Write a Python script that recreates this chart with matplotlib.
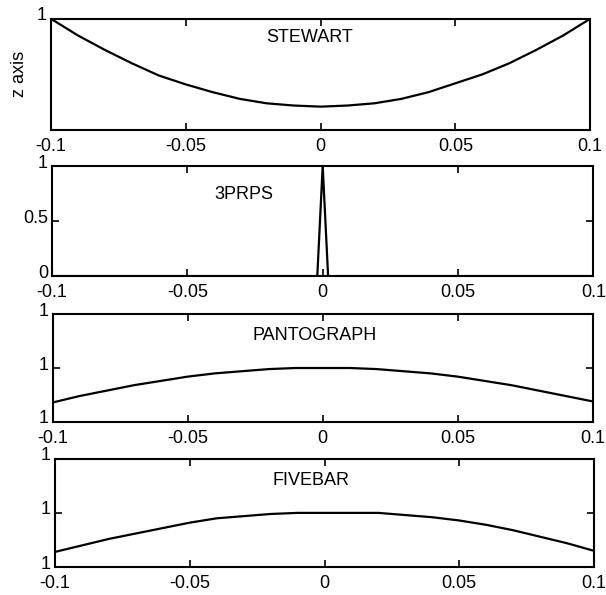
import matplotlib
matplotlib.use("Agg")
import matplotlib.pyplot as plt
import matplotlib.transforms as mtransforms

plt.rcParams['font.family'] = ['Liberation Sans', 'DejaVu Sans']
plt.rcParams['font.size'] = 13

# x positions (shared by the smooth curves)
x = [-0.1, -0.09, -0.08, -0.07, -0.06, -0.05, -0.04, -0.03, -0.02, -0.01, 0.0,
     0.01, 0.02, 0.03, 0.04, 0.05, 0.06, 0.07, 0.08, 0.09, 0.1]

# values (axis-fraction units)
stewart = [1.00, 0.85, 0.72, 0.60, 0.49, 0.41, 0.34, 0.28, 0.24, 0.22, 0.21,
           0.22, 0.24, 0.28, 0.34, 0.42, 0.50, 0.60, 0.72, 0.85, 1.00]
pantograph = [0.18, 0.24, 0.29, 0.34, 0.38, 0.42, 0.45, 0.47, 0.49, 0.50, 0.50,
              0.50, 0.49, 0.47, 0.45, 0.42, 0.38, 0.34, 0.29, 0.24, 0.19]
fivebar = [0.14, 0.20, 0.26, 0.31, 0.36, 0.41, 0.45, 0.47, 0.49, 0.50, 0.50,
           0.50, 0.50, 0.48, 0.46, 0.43, 0.39, 0.34, 0.28, 0.22, 0.15]

x_3prps = [-0.1, -0.002, 0.0, 0.002, 0.1]
prps = [0.0, 0.0, 1.0, 0.0, 0.0]

xticks = [-0.1, -0.05, 0, 0.05, 0.1]
xticklabels = ["-0.1", "-0.05", "0", "0.05", "0.1"]

fig = plt.figure(figsize=(6.06, 5.95), dpi=100)

boxes = [
    [0.084, 0.7815, 0.890, 0.187],
    [0.086, 0.536, 0.893, 0.185],
    [0.087, 0.291, 0.891, 0.181],
    [0.091, 0.047, 0.889, 0.182],
]

panels = [
    (x, stewart, "STEWART", -0.004, 0.83, [1], ["1"]),
    (x_3prps, prps, "3PRPS", -0.029, 0.74, [0, 0.5, 1], ["0", "0.5", "1"]),
    (x, pantograph, "PANTOGRAPH", -0.003, 0.80, [0, 0.5, 1], ["1", "1", "1"]),
    (x, fivebar, "FIVEBAR", -0.005, 0.80, [0, 0.5, 1], ["1", "1", "1"]),
]

# y tick labels sit a little above their ticks in the reference
lift = mtransforms.ScaledTranslation(0, 5 / 100, fig.dpi_scale_trans)

for box, (xs, ys, name, tx, ty, yt, ytl) in zip(boxes, panels):
    ax = fig.add_axes(box)
    ax.plot(xs, ys, color="black", linewidth=1.6)
    ax.set_xlim(-0.1, 0.1)
    ax.set_ylim(0, 1)
    ax.set_xticks(xticks)
    ax.set_xticklabels(xticklabels)
    ax.set_yticks(yt)
    ax.set_yticklabels(ytl)
    ax.tick_params(direction="in", top=True, right=True, length=5, width=1.2, pad=3)
    ax.tick_params(axis="x", pad=6)
    for lab in ax.get_yticklabels():
        lab.set_transform(lab.get_transform() + lift)
    for s in ax.spines.values():
        s.set_linewidth(1.5)
    ax.text(tx, ty, name, ha="center", va="center", fontsize=13)
    if name == "STEWART":
        ax.set_ylabel("z axis", labelpad=6)

fig.savefig("out.png", dpi=100)
